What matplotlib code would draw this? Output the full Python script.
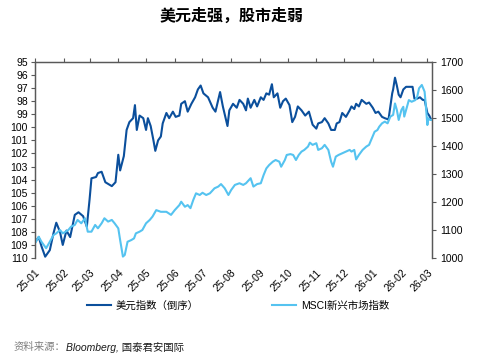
import matplotlib
matplotlib.use("Agg")
import matplotlib.pyplot as plt
import matplotlib.dates as mdates
import pandas as pd

plt.rcParams['font.family'] = ['Liberation Sans', 'Noto Sans CJK SC']

# 美元指数 (left axis, inverted)
dxy_dates = ["2025-01-02", "2025-01-05", "2025-01-08", "2025-01-12", "2025-01-17", "2025-01-21",
             "2025-01-24", "2025-01-28", "2025-01-31", "2025-02-04", "2025-02-08", "2025-02-13",
             "2025-02-17", "2025-02-22", "2025-02-26", "2025-03-01", "2025-03-03", "2025-03-08",
             "2025-03-10", "2025-03-14", "2025-03-18", "2025-03-25", "2025-03-29", "2025-04-01",
             "2025-04-03", "2025-04-07", "2025-04-10", "2025-04-13", "2025-04-17", "2025-04-19",
             "2025-04-21", "2025-04-24", "2025-04-28", "2025-05-01", "2025-05-03", "2025-05-06",
             "2025-05-09", "2025-05-11", "2025-05-14", "2025-05-17", "2025-05-19", "2025-05-23",
             "2025-05-26", "2025-05-30", "2025-06-02", "2025-06-06", "2025-06-08", "2025-06-12",
             "2025-06-15", "2025-06-19", "2025-06-23", "2025-06-26", "2025-06-29", "2025-07-02",
             "2025-07-07", "2025-07-12", "2025-07-15", "2025-07-20", "2025-07-23", "2025-07-28",
             "2025-07-30", "2025-08-03", "2025-08-07", "2025-08-10", "2025-08-14", "2025-08-17",
             "2025-08-19", "2025-08-22", "2025-08-26", "2025-08-29", "2025-09-02", "2025-09-05",
             "2025-09-08", "2025-09-11", "2025-09-14", "2025-09-16", "2025-09-20", "2025-09-23",
             "2025-09-26", "2025-09-29", "2025-10-03", "2025-10-06", "2025-10-09", "2025-10-12",
             "2025-10-16", "2025-10-20", "2025-10-24", "2025-10-28", "2025-11-01", "2025-11-03",
             "2025-11-07", "2025-11-10", "2025-11-14", "2025-11-17", "2025-11-21", "2025-11-23",
             "2025-11-26", "2025-11-29", "2025-12-03", "2025-12-07", "2025-12-09", "2025-12-12",
             "2025-12-14", "2025-12-17", "2025-12-20", "2025-12-25", "2025-12-28", "2026-01-01",
             "2026-01-04", "2026-01-07", "2026-01-11", "2026-01-14", "2026-01-18", "2026-01-22",
             "2026-01-23", "2026-01-25", "2026-01-27", "2026-01-29", "2026-01-31", "2026-02-03",
             "2026-02-06", "2026-02-09", "2026-02-13", "2026-02-15", "2026-02-18", "2026-02-21",
             "2026-02-24", "2026-02-26", "2026-03-01", "2026-03-03", "2026-03-05"]
dxy_vals = [108.7, 108.4, 109.1, 109.9, 109.4, 108.1,
            107.3, 108.0, 109.0, 107.9, 108.4, 106.7,
            106.5, 106.8, 107.6, 105.5, 103.9, 103.8,
            103.5, 103.4, 104.2, 104.5, 104.2, 102.1,
            103.3, 102.2, 100.2, 99.6, 99.3, 98.3,
            100.2, 99.1, 99.3, 100.2, 99.3, 99.9,
            101.0, 101.8, 101.0, 100.7, 99.7, 98.9,
            99.3, 98.8, 99.2, 99.1, 98.2, 98.0,
            98.8, 98.2, 97.7, 97.1, 96.8, 97.4,
            97.7, 98.5, 98.8, 97.3, 98.4, 99.9,
            98.7, 98.2, 98.5, 97.9, 98.2, 98.7,
            97.8, 98.5, 97.9, 98.4, 97.7, 97.9,
            97.4, 97.5, 96.7, 97.7, 97.4, 98.5,
            98.0, 97.8, 98.3, 99.6, 99.2, 98.4,
            98.7, 99.1, 98.8, 99.8, 100.1, 99.7,
            99.6, 99.3, 99.7, 100.2, 100.2, 99.7,
            99.6, 98.9, 99.2, 98.7, 98.4, 98.6,
            98.2, 98.4, 97.9, 98.2, 98.1, 98.5,
            98.9, 98.8, 99.2, 99.3, 99.4, 97.4,
            97.1, 96.2, 96.8, 97.5, 97.7, 97.1,
            96.9, 96.9, 96.9, 97.8, 97.8, 97.7,
            97.9, 97.9, 98.9, 99.1, 99.4]

# MSCI新兴市场指数 (right axis)
msci_dates = ["2025-01-02", "2025-01-05", "2025-01-08", "2025-01-13", "2025-01-17", "2025-01-21",
              "2025-01-24", "2025-01-28", "2025-01-31", "2025-02-06", "2025-02-09", "2025-02-13",
              "2025-02-16", "2025-02-20", "2025-02-24", "2025-02-27", "2025-03-03", "2025-03-07",
              "2025-03-10", "2025-03-14", "2025-03-17", "2025-03-21", "2025-03-25", "2025-03-28",
              "2025-04-01", "2025-04-03", "2025-04-06", "2025-04-08", "2025-04-11", "2025-04-15",
              "2025-04-18", "2025-04-20", "2025-04-24", "2025-04-27", "2025-05-01", "2025-05-05",
              "2025-05-08", "2025-05-12", "2025-05-17", "2025-05-23", "2025-05-28", "2025-06-01",
              "2025-06-06", "2025-06-08", "2025-06-12", "2025-06-15", "2025-06-18", "2025-06-21",
              "2025-06-24", "2025-06-28", "2025-07-01", "2025-07-05", "2025-07-09", "2025-07-14",
              "2025-07-18", "2025-07-21", "2025-07-25", "2025-07-29", "2025-08-01", "2025-08-05",
              "2025-08-10", "2025-08-14", "2025-08-17", "2025-08-22", "2025-08-25", "2025-08-29",
              "2025-09-02", "2025-09-05", "2025-09-08", "2025-09-11", "2025-09-15", "2025-09-18",
              "2025-09-22", "2025-09-24", "2025-09-28", "2025-09-30", "2025-10-04", "2025-10-07",
              "2025-10-10", "2025-10-13", "2025-10-16", "2025-10-19", "2025-10-23", "2025-10-25",
              "2025-10-28", "2025-11-01", "2025-11-03", "2025-11-07", "2025-11-10", "2025-11-14",
              "2025-11-17", "2025-11-19", "2025-11-22", "2025-11-25", "2025-11-29", "2025-12-03",
              "2025-12-07", "2025-12-09", "2025-12-12", "2025-12-14", "2025-12-17", "2025-12-21",
              "2025-12-25", "2025-12-28", "2025-12-31", "2026-01-03", "2026-01-06", "2026-01-08",
              "2026-01-11", "2026-01-14", "2026-01-17", "2026-01-20", "2026-01-23", "2026-01-25",
              "2026-01-27", "2026-01-29", "2026-02-01", "2026-02-03", "2026-02-04", "2026-02-07",
              "2026-02-09", "2026-02-12", "2026-02-16", "2026-02-18", "2026-02-20", "2026-02-23",
              "2026-02-26", "2026-02-27", "2026-03-01", "2026-03-02", "2026-03-04", "2026-03-05"]
msci_vals = [1058, 1076, 1058, 1035, 1058, 1082,
             1088, 1100, 1088, 1100, 1112, 1118,
             1136, 1124, 1142, 1094, 1094, 1118,
             1106, 1124, 1142, 1130, 1136, 1124,
             1106, 1064, 1005, 1011, 1058, 1064,
             1070, 1088, 1094, 1100, 1124, 1136,
             1148, 1171, 1165, 1165, 1154, 1171,
             1189, 1201, 1183, 1189, 1178, 1207,
             1231, 1225, 1233, 1225, 1231, 1249,
             1255, 1264, 1249, 1225, 1243, 1261,
             1267, 1261, 1267, 1285, 1255, 1264,
             1267, 1296, 1320, 1332, 1344, 1350,
             1344, 1326, 1350, 1368, 1371, 1368,
             1350, 1368, 1380, 1386, 1398, 1412,
             1404, 1410, 1386, 1392, 1404, 1386,
             1344, 1326, 1362, 1368, 1374, 1380,
             1386, 1380, 1386, 1352, 1368, 1386,
             1398, 1404, 1427, 1451, 1457, 1469,
             1481, 1487, 1481, 1505, 1511, 1552,
             1529, 1493, 1529, 1540, 1505, 1540,
             1564, 1558, 1564, 1576, 1606, 1618,
             1594, 1558, 1475, 1499, 1493, 1493]

dark = "#0b4f9c"
light = "#55c3f0"
grey = "#595959"

fig = plt.figure(figsize=(4.78, 3.61), dpi=100)
ax = fig.add_axes([35 / 478, 1 - 258 / 361, (432 - 35) / 478, (258 - 62) / 361])
ax2 = ax.twinx()

l1, = ax.plot(pd.to_datetime(dxy_dates), dxy_vals, color=dark, lw=1.5)
l2, = ax2.plot(pd.to_datetime(msci_dates), msci_vals, color=light, lw=1.5)

ax.set_xlim(pd.Timestamp("2025-01-01"), pd.Timestamp("2026-03-06"))
ax.set_ylim(110, 95)
ax.set_yticks(range(95, 111))
ax2.set_ylim(1000, 1700)
ax2.set_yticks(range(1000, 1701, 100))

ax.xaxis.set_major_locator(mdates.MonthLocator())
ax.xaxis.set_major_formatter(mdates.DateFormatter("%y-%m"))
ax.tick_params(axis='x', top=True, bottom=False, labeltop=False, labelbottom=True,
               direction='out', length=3, color=grey, labelsize=7.5, pad=4)
for lab in ax.get_xticklabels():
    lab.set_rotation(45)
    lab.set_ha('right')
    lab.set_va('top')
    lab.set_rotation_mode('anchor')
ax.tick_params(axis='y', direction='out', length=3, color=grey, labelsize=7.5, pad=2)
ax2.tick_params(axis='y', direction='out', length=3, color=grey, labelsize=7.5, pad=3)

for a in (ax, ax2):
    a.spines['bottom'].set_visible(False)
    for s in ('top', 'left', 'right'):
        a.spines[s].set_color(grey)
        a.spines[s].set_linewidth(0.9)

fig.text(0.484, 1 - 16 / 361, "美元走强，股市走弱", ha='center', va='center',
         fontsize=11.5, fontweight='bold', family=['Noto Sans CJK SC'])

fig.legend([l1, l2], ["美元指数（倒序）", "MSCI新兴市场指数"], loc='center',
           bbox_to_anchor=(0.498, 1 - 306 / 361), ncol=2, frameon=False,
           fontsize=7.5, handlelength=2.3, columnspacing=7.0, handletextpad=0.5)

fig.text(14 / 478, 1 - 347 / 361, "资料来源：", ha='left', va='center',
         fontsize=7.5, color="#7f7f7f", style='italic')
fig.text(66 / 478, 1 - 347 / 361, "Bloomberg, 国泰君安国际", ha='left', va='center',
         fontsize=7.5, color="#1a1a1a", style='italic')

fig.savefig("out.png", dpi=100)
